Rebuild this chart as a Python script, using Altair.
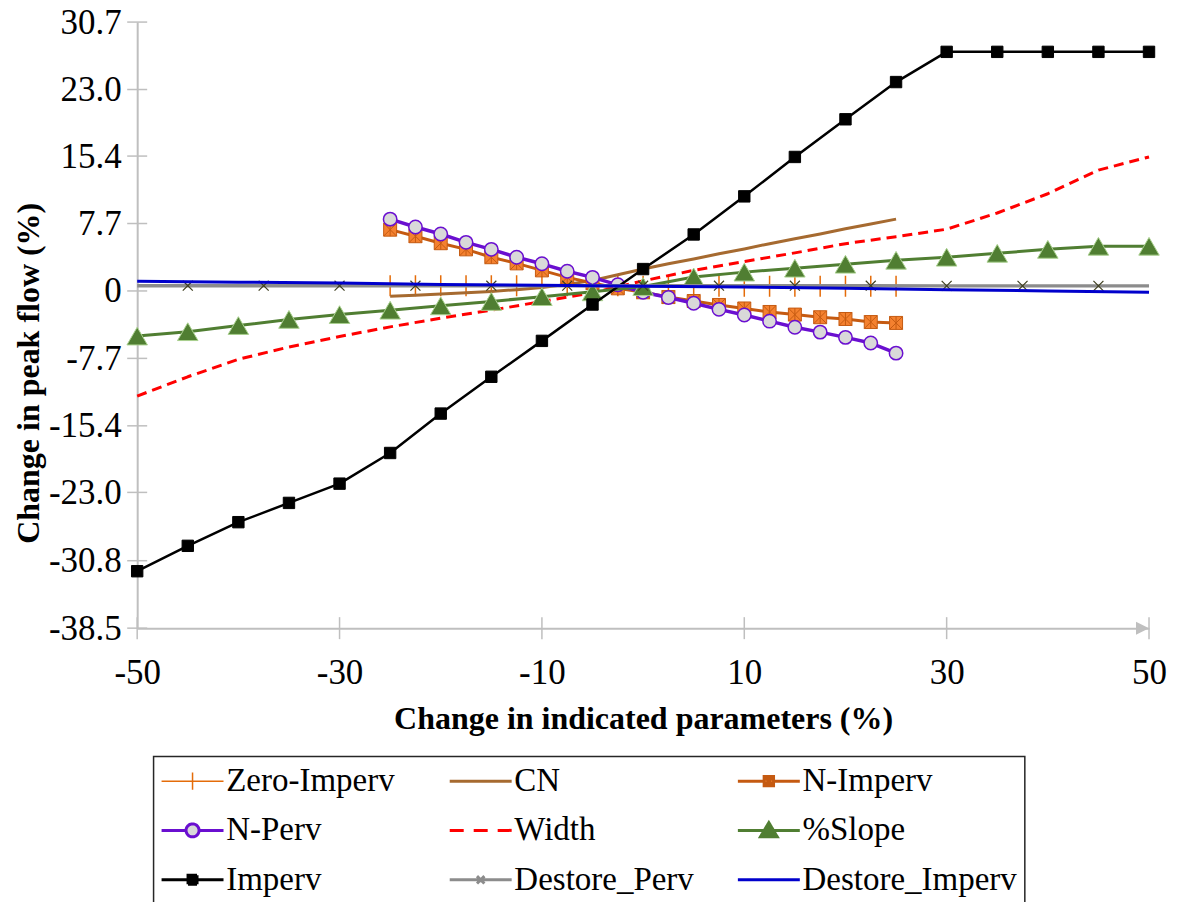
import altair as alt
import pandas as pd

FONT = "'Liberation Serif', 'Times New Roman', Times, serif"
AXIS_COLOR = "#BFBFBF"

# ---------------- data ----------------
X_TICKS = [-50, -30, -10, 10, 30, 50]
Y_TICKS = [-38.5, -30.8, -23.0, -15.4, -7.7, 0, 7.7, 15.4, 23.0, 30.7]
X_DOMAIN = [-50, 50]
Y_DOMAIN = [-38.5, 30.7]

NAMES = ["Zero-Imperv", "CN", "N-Imperv", "N-Perv", "Width", "%Slope",
         "Imperv", "Destore_Perv", "Destore_Imperv"]

X_FULL = [-50, -45, -40, -35, -30, -25, -20, -15, -10, -5, 0,
          5, 10, 15, 20, 25, 30, 35, 40, 45, 50]
X_HALF = [-25, -22.5, -20, -17.5, -15, -12.5, -10, -7.5, -5, -2.5, 0,
          2.5, 5, 7.5, 10, 12.5, 15, 17.5, 20, 22.5, 25]
X_DP = [-50, -45, -37.5, -30, -22.5, -15, -7.5, 0, 7.5, 15, 22.5, 30, 37.5, 45, 50]
X_DI = [-50, -40, -30, -20, -10, 0, 10, 20, 30, 40, 50]

ZERO_IMPERV = [0.6, 0.6, 0.6, 0.6, 0.6, 0.6, 0.6, 0.6, 0.6, 0.6, 0.55,
               0.55, 0.55, 0.55, 0.55, 0.55, 0.55, 0.55, 0.55, 0.55, 0.55]
CN = [-0.6, -0.5, -0.35, -0.2, -0.05, 0.15, 0.4, 0.75, 1.2, 1.85, 2.5,
      3.1, 3.65, 4.25, 4.8, 5.4, 5.95, 6.5, 7.1, 7.65, 8.2]
N_IMPERV = [7.0, 6.25, 5.45, 4.75, 3.85, 3.15, 2.35, 1.55, 0.9, 0.3, -0.15,
            -0.7, -1.15, -1.6, -2.0, -2.4, -2.7, -3.0, -3.2, -3.55, -3.65]
N_PERV = [8.2, 7.3, 6.5, 5.55, 4.75, 3.85, 3.1, 2.25, 1.55, 0.7, -0.15,
          -0.75, -1.4, -2.1, -2.75, -3.45, -4.15, -4.7, -5.3, -5.95, -7.1]
WIDTH = [-12.0, -9.8, -7.8, -6.4, -5.2, -4.1, -3.1, -2.2, -1.2, -0.2, 1.15,
         2.35, 3.35, 4.35, 5.4, 6.2, 7.05, 8.9, 11.1, 13.8, 15.3]
SLOPE = [-5.15, -4.65, -3.95, -3.25, -2.7, -2.2, -1.7, -1.2, -0.65, -0.1, 0.5,
         1.6, 2.15, 2.6, 3.05, 3.5, 3.85, 4.3, 4.75, 5.1, 5.1]
IMPERV = [-32.0, -29.1, -26.4, -24.2, -22.0, -18.5, -14.0, -9.8, -5.7, -1.55, 2.5,
          6.45, 10.8, 15.3, 19.6, 23.85, 27.3, 27.3, 27.3, 27.3, 27.3]
DESTORE_PERV = [0.6, 0.6, 0.6, 0.6, 0.6, 0.6, 0.6, 0.6, 0.6, 0.6, 0.6,
                0.58, 0.58, 0.58, 0.58]
DESTORE_IMPERV = [1.1, 1.0, 0.9, 0.75, 0.65, 0.55, 0.45, 0.3, 0.15, 0.0, -0.15]

SERIES_X = [X_HALF, X_HALF, X_HALF, X_HALF, X_FULL, X_FULL, X_FULL, X_DP, X_DI]
SERIES_Y = [ZERO_IMPERV, CN, N_IMPERV, N_PERV, WIDTH, SLOPE, IMPERV,
            DESTORE_PERV, DESTORE_IMPERV]

rows = []
for name, xs, ys in zip(NAMES, SERIES_X, SERIES_Y):
    for xv, yv in zip(xs, ys):
        rows.append({"series": name, "x": xv, "y": yv})
df = pd.DataFrame(rows)

# ---------------- styles ----------------
LINE_STYLE = {
    "Zero-Imperv": dict(color="#E46C0A", strokeWidth=1.5),
    "CN": dict(color="#A66A30", strokeWidth=3),
    "N-Imperv": dict(color="#C55A11", strokeWidth=3),
    "N-Perv": dict(color="#6A0FD0", strokeWidth=3.5),
    "Width": dict(color="#FF0000", strokeWidth=3, strokeDash=[10, 6]),
    "%Slope": dict(color="#507E32", strokeWidth=3),
    "Imperv": dict(color="#000000", strokeWidth=2.5),
    "Destore_Perv": dict(color="#8C8C8C", strokeWidth=3.5),
    "Destore_Imperv": dict(color="#0000CC", strokeWidth=3),
}
MARKER_STYLE = {
    "Zero-Imperv": dict(shape="M0,-1V1M-0.6,0H0.6", size=441, filled=False,
                        stroke="#E46C0A", strokeWidth=1.5),
    "N-Imperv": dict(shape="M-1,-1H1V1H-1Z M0,-1V1 M-1,-1L1,1 M1,-1L-1,1",
                     size=169, filled=True, fill="#F4812F", stroke="#C55A11",
                     strokeWidth=1),
    "N-Perv": dict(shape="circle", size=180, filled=True, fill="#D9D9D9",
                   stroke="#6A0FD0", strokeWidth=1.5),
    "%Slope": dict(shape="triangle-up", size=420, filled=True, fill="#507E32",
                   stroke="#A9D08E", strokeWidth=1),
    "Imperv": dict(shape="square", size=130, filled=True, fill="#000000",
                   stroke="#000000", strokeWidth=1),
    "Destore_Perv": dict(shape="M-1,-1L1,1M1,-1L-1,1", size=100, filled=False,
                         stroke="#3F3F1F", strokeWidth=1.2),
}

# legend symbols: path units of 10 px (symbolSize 400), line 62 px long
LEG_SHAPE = [
    "M-3.1,0H3.1M0,-0.87V0.87",
    "M-3.1,0H3.1",
    "M-3.1,0H-0.47M0.47,0H3.1M-0.47,-0.47H0.47V0.47H-0.47Z M0,-0.47V0.47 M-0.47,-0.47L0.47,0.47 M0.47,-0.47L-0.47,0.47",
    "M-3.1,0H-0.65M0.65,0H3.1M-0.65,0A0.65,0.65,0,1,1,0.65,0A0.65,0.65,0,1,1,-0.65,0Z",
    "M-3.1,0H3.1",
    "M-3.1,0H3.1M0,-0.78L0.84,0.65H-0.84Z",
    "M-3.1,0H3.1M-0.45,-0.45H0.45V0.45H-0.45Z",
    "M-3.1,0H3.1M-0.37,-0.37L0.37,0.37M0.37,-0.37L-0.37,0.37",
    "M-3.1,0H3.1",
]
LEG_FILL = ["transparent", "transparent", "#F4812F", "#D9D9D9", "transparent",
            "#507E32", "#000000", "transparent", "transparent"]
LEG_STROKE = ["#E46C0A", "#A66A30", "#C55A11", "#6A0FD0", "#FF0000",
              "#507E32", "#000000", "#8C8C8C", "#0000CC"]
LEG_DASH = [[1, 0], [1, 0], [1, 0], [1, 0], [14, 10], [1, 0], [1, 0], [1, 0], [1, 0]]
LEG_SW = [1.5, 3, 3, 3, 3, 3, 3, 3, 3]

# ---------------- scales / axes ----------------
x_scale = alt.Scale(domain=X_DOMAIN, nice=False, zero=False)
y_scale = alt.Scale(domain=Y_DOMAIN, nice=False, zero=False)

x_axis = alt.Axis(
    values=X_TICKS, title="Change in indicated parameters (%)", grid=False,
    ticks=False, domainColor=AXIS_COLOR, domainWidth=2,
    labelExpr="'' + datum.value", labelFont=FONT, labelFontSize=35,
    labelColor="black", labelPadding=27, labelFlush=False, labelOverlap=False,
    titleFont=FONT, titleFontSize=32, titleFontWeight="bold", titleColor="black",
    titleBaseline="alphabetic", titleY=100,
)
y_axis = alt.Axis(
    values=Y_TICKS, title="Change in peak flow (%)", grid=False, ticks=False,
    domainColor=AXIS_COLOR, domainWidth=2,
    labelExpr="datum.value == 0 ? '0' : replace(format(datum.value, '.1f'), '\u2212', '-')",
    labelFont=FONT, labelFontSize=35, labelColor="black", labelPadding=16,
    labelFlush=False, labelOverlap=False,
    titleFont=FONT, titleFontSize=32, titleFontWeight="bold", titleColor="black",
    titleBaseline="middle", titleX=-109, titleY=351,
)

X_ENC = alt.X("x:Q", scale=x_scale, axis=x_axis)
Y_ENC = alt.Y("y:Q", scale=y_scale, axis=y_axis)

layers = []

# crossing tick marks and arrow head on the axes
xt = alt.Chart(pd.DataFrame({"tv": X_TICKS})).mark_tick(
    orient="vertical", size=22, thickness=1.5, color=AXIS_COLOR, opacity=1
).encode(
    x=alt.X("tv:Q", scale=x_scale, axis=x_axis),
    y=alt.YDatum(datum=Y_DOMAIN[0], scale=y_scale, axis=y_axis),
)
yt = alt.Chart(pd.DataFrame({"tv": Y_TICKS})).mark_tick(
    orient="horizontal", size=20, thickness=1.5, color=AXIS_COLOR, opacity=1
).encode(
    x=alt.XDatum(datum=X_DOMAIN[0], scale=x_scale, axis=x_axis),
    y=alt.Y("tv:Q", scale=y_scale, axis=y_axis),
)
arrow = alt.Chart(pd.DataFrame({"a": [0]})).mark_point(
    shape="M0,0L-2,-1L-2,1Z", size=169, filled=True, color=AXIS_COLOR, opacity=1
).encode(
    x=alt.XDatum(datum=X_DOMAIN[1], scale=x_scale, axis=x_axis),
    y=alt.YDatum(datum=Y_DOMAIN[0], scale=y_scale, axis=y_axis),
)
layers += [xt, yt, arrow]

for name in NAMES:
    base = alt.Chart(df).transform_filter(alt.datum.series == name)
    layers.append(
        base.mark_line(strokeJoin="round", **LINE_STYLE[name]).encode(x=X_ENC, y=Y_ENC)
    )
    if name in MARKER_STYLE:
        pts = base.transform_filter(
            (alt.datum.x > X_DOMAIN[0]) & (alt.datum.x < X_DOMAIN[1])
        ) if name == "Destore_Perv" else base
        layers.append(
            pts.mark_point(opacity=1, **MARKER_STYLE[name]).encode(x=X_ENC, y=Y_ENC)
        )

LEG = alt.Legend(
    title=None, orient="none", legendX=16.4, legendY=735.0, columns=3,
    direction="horizontal",
    symbolSize=400, symbolOffset=14.5, labelFont=FONT, labelFontSize=33,
    labelColor="black", labelLimit=400, labelOffset=17.2, padding=8,
    rowPadding=15.5, columnPadding=2.4, gridAlign="all",
    strokeColor="#262626", fillColor="white", symbolOpacity=1,
)

legend_layer = alt.Chart(df).transform_filter("false").mark_point(
    filled=False, opacity=1
).encode(
    shape=alt.Shape("series:N", scale=alt.Scale(domain=NAMES, range=LEG_SHAPE), legend=LEG),
    stroke=alt.Stroke("series:N", scale=alt.Scale(domain=NAMES, range=LEG_STROKE), legend=LEG),
    fill=alt.Fill("series:N", scale=alt.Scale(domain=NAMES, range=LEG_FILL), legend=LEG),
    strokeDash=alt.StrokeDash("series:N", scale=alt.Scale(domain=NAMES, range=LEG_DASH), legend=LEG),
    strokeWidth=alt.StrokeWidth("series:N", scale=alt.Scale(type="ordinal", domain=NAMES, range=LEG_SW), legend=LEG),
)
layers.append(legend_layer)

chart = alt.layer(*layers).properties(
    width=1012.7, height=606.6,
    autosize=alt.AutoSizeParams(type="none"),
    padding={"left": 129.3, "top": 13.7, "right": 20, "bottom": 280},
).configure_view(stroke=None).configure_legend(strokeWidth=1.5)

chart.save("out.html", embed_options={"renderer": "svg", "actions": False})
